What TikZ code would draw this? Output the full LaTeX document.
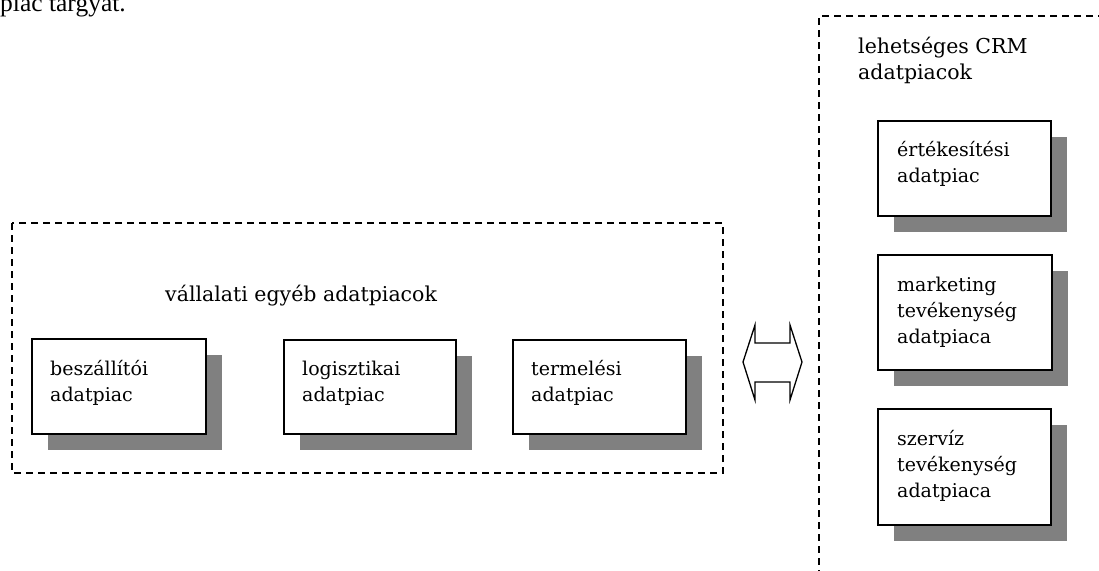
\documentclass[tikz,border=0pt]{standalone}
\usepackage{fontspec}
\setmainfont{DejaVu Serif}
\newfontfamily\timesfont{Liberation Serif}
\usetikzlibrary{shadows}
\tikzset{
  dbox/.style={draw=black, line width=1.3pt, dash pattern=on 7pt off 5pt},
  mbox/.style={draw=black, line width=1.6pt, fill=white, anchor=north west, inner sep=0pt,
     drop shadow={shadow xshift=16pt, shadow yshift=-16pt, fill=black!50, opacity=1}},
  lbl/.style={anchor=base west, inner sep=0pt, align=left,
     font=\fontsize{19}{26}\selectfont},
  head/.style={anchor=base west, inner sep=0pt, align=left,
     font=\fontsize{20.5}{26}\selectfont},
  arr/.style={draw=black, line width=1.3pt, fill=white, line join=miter}
}
\begin{document}
\begin{tikzpicture}[x=1pt,y=-1pt]
\useasboundingbox (0,0) rectangle (1099,570);
% top cut text
\node[anchor=base west, inner sep=0pt, font=\timesfont\fontsize{25.5}{30}\selectfont] (top) at (0,12) {piac tárgyát.};
% left group
\draw[dbox] (12,223) rectangle (723,473);
\node[head] (h1) at (165,301) {vállalati egyéb adatpiacok};
\node[mbox, minimum width=174pt, minimum height=95pt] (b1) at (31,338) {};
\node[mbox, minimum width=172pt, minimum height=94pt] (b2) at (283,339) {};
\node[mbox, minimum width=173pt, minimum height=94pt] (b3) at (512,339) {};
\node[lbl] (t1) at (50,401) {beszállítói\\adatpiac};
\node[lbl] (t2) at (302,401) {logisztikai\\adatpiac};
\node[lbl] (t3) at (531,401) {termelési\\adatpiac};
% right group
\draw[dbox] (1105,16) -- (819,16) -- (819,576);
\node[head] (h2) at (858,79) {lehetséges CRM\\adatpiacok};
\node[mbox, minimum width=173pt, minimum height=95pt] (r1) at (877,120) {};
\node[mbox, minimum width=174pt, minimum height=115pt] (r2) at (877,254) {};
\node[mbox, minimum width=173pt, minimum height=116pt] (r3) at (877,408) {};
\node[lbl] (s1) at (897,182) {értékesítési\\adatpiac};
\node[lbl] (s2) at (897,343) {marketing\\tevékenység\\adatpiaca};
\node[lbl] (s3) at (897,497) {szervíz\\tevékenység\\adatpiaca};
% double arrow
\draw[arr] (755,325) -- (755,343) -- (790,343) -- (790,325) -- (802,362) -- (790,400)
  -- (790,382) -- (755,382) -- (755,400) -- (743,362) -- cycle;
\end{tikzpicture}
\end{document}
